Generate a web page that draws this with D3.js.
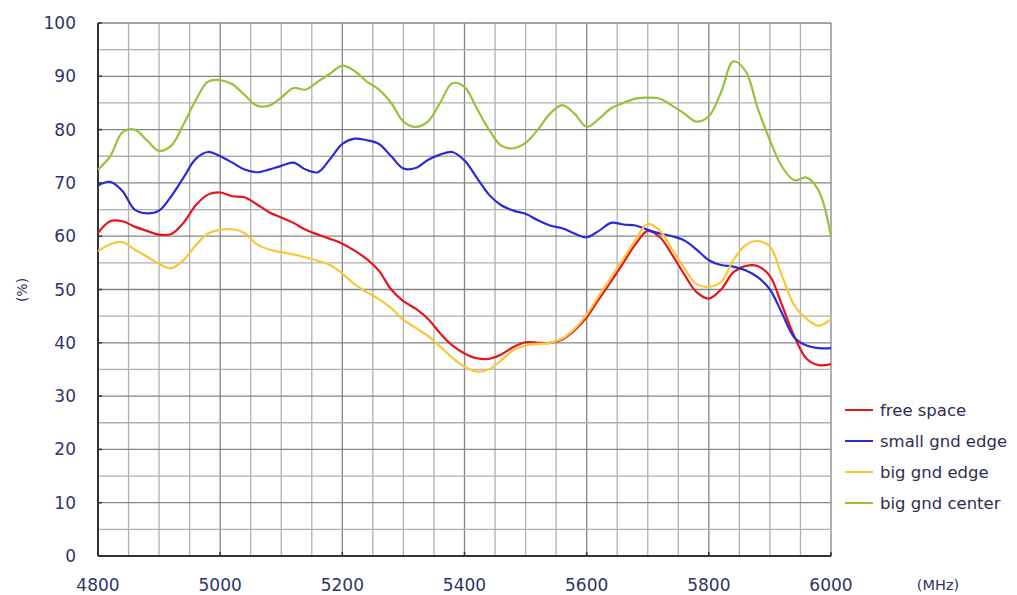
<!DOCTYPE html>
<html>
<head>
<meta charset="utf-8">
<script src="https://cdn.jsdelivr.net/npm/d3@7"></script>
<style>
  body { margin: 0; background: #fff; }
  svg text { font-family: "DejaVu Sans", Verdana, sans-serif; }
</style>
</head>
<body>
<svg id="chart" width="1017" height="595"></svg>
<script>
// frequency points (MHz), every 20 MHz
var freqs = d3.range(4800, 6001, 20);

var freeSpace = [60.6, 62.8, 62.8, 61.8, 61, 60.3, 60.4, 62.5, 65.8, 67.8,
  68.2, 67.5, 67.3, 66, 64.5, 63.5, 62.5, 61.2, 60.3, 59.5,
  58.6, 57.3, 55.7, 53.5, 50, 47.8, 46.4, 44.5, 41.8, 39.5,
  38, 37.1, 37, 37.8, 39.2, 40.1, 40, 40, 40.6, 42.3,
  44.8, 48.2, 51.5, 55, 58.5, 61, 59.8, 56.5, 52.8, 49.5,
  48.3, 50, 53.2, 54.4, 54.4, 52.5, 47, 41.2, 37, 35.8, 36];

var smallGndEdge = [69.5, 70.2, 68.5, 65, 64.3, 64.8, 67.5, 71, 74.5, 75.8,
  75, 73.8, 72.5, 72, 72.5, 73.2, 73.8, 72.5, 72, 74.5,
  77.3, 78.3, 78, 77.3, 75, 72.7, 72.8, 74.3, 75.3, 75.8,
  74.2, 71, 67.8, 65.8, 64.8, 64.2, 63, 62, 61.5, 60.5,
  59.8, 61, 62.5, 62.2, 62, 61.2, 60.5, 60, 59.2, 57.5,
  55.5, 54.6, 54.3, 53.6, 52.3, 50, 45.5, 41, 39.5, 39, 39];

var bigGndEdge = [57.2, 58.5, 58.9, 57.5, 56.2, 54.8, 54, 55.5, 58.3, 60.5,
  61.2, 61.3, 60.6, 58.5, 57.5, 57, 56.6, 56, 55.4, 54.6,
  53, 51, 49.5, 48.2, 46.5, 44.3, 42.8, 41.3, 39.3, 37.2,
  35.5, 34.6, 35, 36.7, 38.6, 39.5, 39.8, 40, 40.8, 42.6,
  45.3, 48.8, 52.3, 55.8, 59.3, 62.3, 61, 57.5, 54, 51,
  50.5, 51.4, 55.5, 58.3, 59.1, 58, 52.5, 47, 44.5, 43.2, 44.5];

var bigGndCenter = [72.5, 75, 79.5, 80, 78, 76, 77, 81, 85.5, 89,
  89.3, 88.5, 86.5, 84.5, 84.5, 86, 87.8, 87.5, 89, 90.5,
  92, 91, 89, 87.5, 85, 81.5, 80.5, 81.5, 85, 88.7,
  88, 84, 80, 77, 76.5, 77.5, 80, 83, 84.6, 83,
  80.5, 82, 84, 85, 85.8, 86, 85.8, 84.5, 83, 81.5,
  82.5, 87, 92.8, 91, 84, 78, 73, 70.5, 71, 68.5, 60];

var seriesNames = ["free space", "small gnd edge", "big gnd edge", "big gnd center"];
var seriesColors = ["#e8141c", "#2a2ad6", "#f7c83a", "#99c23c"];
var xTicks = [4800, 5000, 5200, 5400, 5600, 5800, 6000];
var yTicks = [0, 10, 20, 30, 40, 50, 60, 70, 80, 90, 100];

var svg = d3.select("#chart");
var plotLeft = 98, plotRight = 831, plotTop = 23, plotBottom = 556;

var x = d3.scaleLinear().domain([4800, 6000]).range([plotLeft, plotRight]);
var y = d3.scaleLinear().domain([0, 100]).range([plotBottom, plotTop]);

// grid, minor every 50 MHz / 5 %
var grid = svg.append("g");
grid.selectAll(".vg").data(d3.range(4850, 6001, 50)).enter().append("line")
  .attr("x1", d => x(d)).attr("x2", d => x(d))
  .attr("y1", plotTop).attr("y2", plotBottom)
  .attr("stroke", d => d % 200 == 0 ? "#858585" : "#b0b0b0")
  .attr("stroke-width", 1.3);
grid.selectAll(".hg").data(d3.range(5, 101, 5)).enter().append("line")
  .attr("x1", plotLeft).attr("x2", plotRight)
  .attr("y1", d => y(d)).attr("y2", d => y(d))
  .attr("stroke", d => d % 10 == 0 ? "#858585" : "#b0b0b0")
  .attr("stroke-width", 1.3);

// axes lines
svg.append("line").attr("x1", plotLeft).attr("x2", plotLeft).attr("y1", plotTop).attr("y2", plotBottom)
  .attr("stroke", "#333").attr("stroke-width", 2);
svg.append("line").attr("x1", plotLeft).attr("x2", plotRight).attr("y1", plotBottom).attr("y2", plotBottom)
  .attr("stroke", "#333").attr("stroke-width", 2);

// inner ticks
svg.selectAll(".yt").data(yTicks).enter().append("line")
  .attr("x1", plotLeft).attr("x2", plotLeft + 4)
  .attr("y1", d => y(d)).attr("y2", d => y(d))
  .attr("stroke", "#333").attr("stroke-width", 1.5);
svg.selectAll(".xt").data(xTicks).enter().append("line")
  .attr("x1", d => x(d)).attr("x2", d => x(d))
  .attr("y1", plotBottom).attr("y2", plotBottom - 4)
  .attr("stroke", "#333").attr("stroke-width", 1.5);

// tick labels
svg.selectAll(".yl").data(yTicks).enter().append("text")
  .attr("x", 76).attr("y", d => y(d) + 6)
  .attr("text-anchor", "end")
  .attr("font-size", 17).attr("fill", "#2e3466")
  .text(d => d);
svg.selectAll(".xl").data(xTicks).enter().append("text")
  .attr("x", d => x(d)).attr("y", 591)
  .attr("text-anchor", "middle")
  .attr("font-size", 17).attr("fill", "#2e3466")
  .text(d => d);

svg.append("text").attr("transform", "translate(27,290) rotate(-90)")
  .attr("text-anchor", "middle").attr("font-size", 14).attr("fill", "#2e3466")
  .text("(%)");
svg.append("text").attr("x", 938).attr("y", 590)
  .attr("text-anchor", "middle").attr("font-size", 14.5).attr("fill", "#2e3466")
  .text("(MHz)");

// curves
var allSeries = [freeSpace, smallGndEdge, bigGndEdge, bigGndCenter];
var line = d3.line()
  .x((d, i) => x(freqs[i]))
  .y(d => y(d))
  .curve(d3.curveCatmullRom.alpha(0.5));

svg.selectAll(".curve").data(allSeries).enter().append("path")
  .attr("d", line)
  .attr("fill", "none")
  .attr("stroke", (d, i) => seriesColors[i])
  .attr("stroke-width", 2.2);

// legend
var legend = svg.append("g").attr("transform", "translate(845,410)");
seriesNames.forEach(function(name, i) {
  legend.append("line")
    .attr("x1", 0).attr("x2", 28)
    .attr("y1", i * 31).attr("y2", i * 31)
    .attr("stroke", seriesColors[i]).attr("stroke-width", 2);
  legend.append("text")
    .attr("x", 35).attr("y", i * 31 + 5.5)
    .attr("font-size", 16.5).attr("fill", "#2e2e50")
    .text(name);
});
</script>
</body>
</html>
